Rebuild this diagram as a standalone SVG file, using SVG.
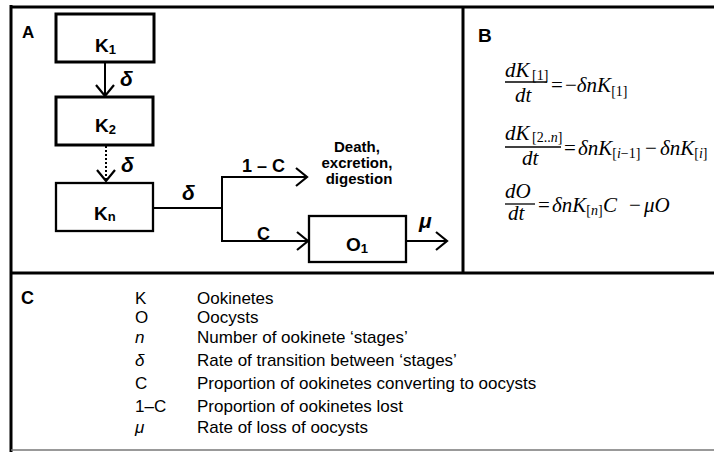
<svg xmlns="http://www.w3.org/2000/svg" width="714" height="452" viewBox="0 0 714 452">
<defs>
<style>
.frame{stroke:#000;stroke-width:3;fill:none}
.box{fill:#fff;stroke:#000}
.conn{stroke:#000;stroke-width:2;fill:none}
.lbl{font-family:"Liberation Sans",Arial,sans-serif;font-weight:bold;fill:#000}
.math{font-family:"Liberation Serif","Times New Roman",serif;font-style:italic;font-size:21px;fill:#000}
.up{font-style:normal}
.sub{font-size:14px}
.leg{font-family:"Liberation Sans",Arial,sans-serif;font-size:17px;fill:#000}
</style>
<marker id="chev" markerUnits="userSpaceOnUse" markerWidth="24" markerHeight="24" viewBox="-14 -12 16 24" refX="0" refY="0" orient="auto">
<path d="M-11,-9 L0,0 L-11,9" fill="none" stroke="#000" stroke-width="2.2"/>
</marker>
</defs>
<rect width="714" height="452" fill="#fff"/>

<g id="frame">
<line class="frame" x1="11" y1="7" x2="714" y2="7" stroke-width="3.5"/>
<line class="frame" x1="11" y1="5" x2="11" y2="452"/>
<line class="frame" x1="463" y1="7" x2="463" y2="273"/>
<line class="frame" x1="11" y1="273" x2="714" y2="273"/>
<line x1="11" y1="450" x2="714" y2="450" stroke="#777" stroke-width="1.5"/>
<text class="lbl" x="22" y="38" font-size="17">A</text>
<text class="lbl" x="478" y="42" font-size="19">B</text>
<text class="lbl" x="21" y="304" font-size="18">C</text>
</g>

<g id="connectors">
<line class="conn" x1="105" y1="62" x2="105" y2="96" marker-end="url(#chev)"/>
<line class="conn" x1="106" y1="146" x2="106" y2="181" stroke-dasharray="2,2" marker-end="url(#chev)"/>
<line class="conn" x1="154" y1="208" x2="222" y2="208"/>
<polyline class="conn" points="307,177 222,177 222,241 308,241"/>
<line class="conn" x1="280" y1="177" x2="307" y2="177" marker-end="url(#chev)"/>
<line class="conn" x1="280" y1="241" x2="308" y2="241" marker-end="url(#chev)"/>
<line class="conn" x1="407" y1="241" x2="447" y2="241" marker-end="url(#chev)"/>
<text class="lbl" x="120" y="86" font-size="21" font-style="italic">δ</text>
<text class="lbl" x="121" y="172" font-size="21" font-style="italic">δ</text>
<text class="lbl" x="182" y="200" font-size="21" font-style="italic">δ</text>
<text class="lbl" x="242" y="172" font-size="18">1 – C</text>
<text class="lbl" x="257" y="240" font-size="18">C</text>
<text class="lbl" x="419" y="228" font-size="21" font-style="italic">μ</text>
</g>

<g id="node-K1">
<rect class="box" x="56" y="14" width="98" height="48" stroke-width="3"/>
<text class="lbl" x="95" y="52" font-size="19">K<tspan font-size="13" dy="2">1</tspan></text>
</g>
<g id="node-K2">
<rect class="box" x="56" y="97" width="97" height="48" stroke-width="3"/>
<text class="lbl" x="95" y="132" font-size="19">K<tspan font-size="13" dy="2">2</tspan></text>
</g>
<g id="node-Kn">
<rect class="box" x="56" y="183" width="97" height="48" stroke-width="2.3"/>
<text class="lbl" x="94" y="220" font-size="19">K<tspan font-size="13" dy="1">n</tspan></text>
</g>
<g id="node-O1">
<rect class="box" x="309" y="216" width="97" height="46" stroke-width="2.3"/>
<text class="lbl" x="346" y="251" font-size="19">O<tspan font-size="13" dy="2">1</tspan></text>
</g>
<g id="node-loss">
<text class="lbl" font-size="15" text-anchor="middle">
<tspan x="359" y="152">Death,</tspan>
<tspan x="359" y="168">excretion,</tspan>
<tspan x="359" y="184">digestion</tspan>
</text>
</g>

<g id="equations">
<text class="math" x="505" y="77">dK<tspan class="up sub" x="532" y="80">[1]</tspan></text>
<line x1="505" y1="82" x2="547" y2="82" stroke="#000" stroke-width="1.3"/>
<text class="math" x="515" y="102">dt</text>
<text class="math" x="551" y="92"><tspan class="up">=</tspan><tspan class="up" x="565">−</tspan>δnK<tspan class="up sub" dy="4">[1]</tspan></text>

<text class="math" x="505" y="140">dK<tspan class="up sub" x="532" y="142">[2..<tspan font-style="italic">n</tspan>]</tspan></text>
<line x1="505" y1="147" x2="561" y2="147" stroke="#000" stroke-width="1.3"/>
<text class="math" x="522" y="165">dt</text>
<text class="math" x="564" y="155"><tspan class="up">=</tspan><tspan x="578">δnK</tspan><tspan class="up sub" dy="3">[<tspan font-style="italic">i</tspan>−1]</tspan><tspan class="up" x="645" dy="-3">−</tspan><tspan x="660">δnK</tspan><tspan class="up sub" dy="3">[<tspan font-style="italic">i</tspan>]</tspan></text>

<text class="math" x="505" y="198">dO</text>
<line x1="505" y1="204" x2="535" y2="204" stroke="#000" stroke-width="1.3"/>
<text class="math" x="508" y="220">dt</text>
<text class="math" x="538" y="212"><tspan class="up">=</tspan><tspan x="552">δnK</tspan><tspan class="up sub" dy="3">[<tspan font-style="italic">n</tspan>]</tspan><tspan x="603" dy="-3">C</tspan><tspan class="up" x="629">−</tspan><tspan x="644">μO</tspan></text>
</g>

<g id="legend" class="leg">
<text x="135" y="304">K</text><text x="197" y="304">Ookinetes</text>
<text x="135" y="323">O</text><text x="197" y="323">Oocysts</text>
<text x="135" y="343" font-style="italic">n</text><text x="197" y="343">Number of ookinete ‘stages’</text>
<text x="135" y="366" font-style="italic">δ</text><text x="197" y="366">Rate of transition between ‘stages’</text>
<text x="135" y="389">C</text><text x="197" y="389">Proportion of ookinetes converting to oocysts</text>
<text x="135" y="412">1–C</text><text x="197" y="412">Proportion of ookinetes lost</text>
<text x="135" y="433" font-style="italic">μ</text><text x="197" y="433">Rate of loss of oocysts</text>
</g>
</svg>
